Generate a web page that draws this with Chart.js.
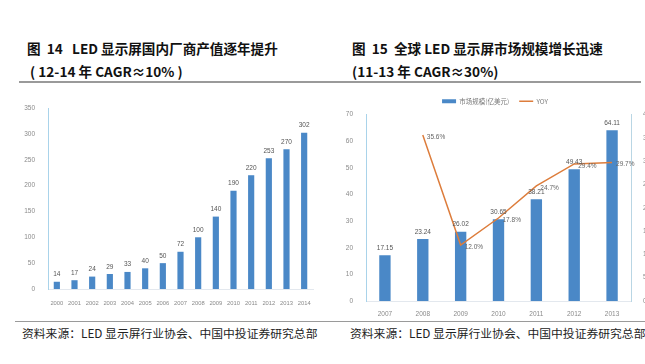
<!DOCTYPE html>
<html>
<head>
<meta charset="utf-8">
<script src="https://cdn.jsdelivr.net/npm/chart.js@4"></script>
<style>
  html, body { margin: 0; padding: 0; background: #fff; width: 645px; height: 364px; overflow: hidden; }
  body { position: relative; font-family: "Noto Sans CJK SC", sans-serif; }
  .title { position: absolute; font-weight: bold; font-size: 13.6px; color: #111; line-height: 23px; white-space: nowrap; }
  .rule { position: absolute; height: 2px; background: #9a9a9a; }
  .src { position: absolute; font-size: 11.8px; color: #222; white-space: nowrap; }
  .box { position: absolute; }
</style>
</head>
<body>
<div class="title" style="left:27px; top:37px;">图&nbsp;&nbsp;14&nbsp;&nbsp;&nbsp;LED 显示屏国内厂商产值逐年提升<br>&nbsp;( 12-14 年 CAGR≈10% )</div>
<div class="title" style="left:352px; top:37px;">图&nbsp;&nbsp;15&nbsp;&nbsp;全球 LED 显示屏市场规模增长迅速<br>(11-13 年 CAGR≈30%)</div>
<div class="rule" style="left:19px; top:81px; width:622px;"></div>
<div class="rule" style="left:15px; top:321px; width:630px; height:1px;"></div>
<div class="src" style="left:22px; top:324px;">资料来源：LED 显示屏行业协会、中国中投证券研究总部</div>
<div class="src" style="left:350px; top:324px;">资料来源：LED 显示屏行业协会、中国中投证券研究总部</div>

<div class="box" style="left:0; top:96px; width:322px; height:212px;"><canvas id="c1"></canvas></div>
<div class="box" style="left:330px; top:84px; width:330px; height:234px;"><canvas id="c2"></canvas></div>

<script>
// figure 14
const years14 = ['2000','2001','2002','2003','2004','2005','2006','2007','2008','2009','2010','2011','2012','2013','2014'];
const output14 = [14, 17, 24, 29, 33, 40, 50, 72, 100, 140, 190, 220, 253, 270, 302];

// figure 15
const years15 = ['2007','2008','2009','2010','2011','2012','2013'];
const market15 = [17.15, 23.24, 26.02, 30.65, 38.21, 49.43, 64.11];
const yoy15 = [null, 0.356, 0.120, 0.178, 0.247, 0.294, 0.297];

const barBlue = '#4a88c7';
const lineOrange = '#dd7d3c';
const tickFont = { family: 'Liberation Sans Narrow, Liberation Sans', size: 6.5 };
const tickColor = '#8a8a8a';

// draws value labels next to bars / points
const valueLabels = {
  id: 'valueLabels',
  afterDatasetsDraw(chart) {
    const ctx = chart.ctx;
    ctx.save();
    ctx.font = '6.5px "Liberation Sans"';
    chart.data.datasets.forEach((ds, i) => {
      const meta = chart.getDatasetMeta(i);
      meta.data.forEach((el, j) => {
        const v = ds.data[j];
        if (v == null) return;
        if (ds.type === 'line') {
          ctx.fillStyle = '#666';
          ctx.textAlign = 'left';
          ctx.textBaseline = 'middle';
          ctx.fillText((v * 100).toFixed(1) + '%', el.x + 4, el.y + 2);
        } else {
          ctx.fillStyle = '#555';
          ctx.textAlign = 'center';
          ctx.textBaseline = 'bottom';
          ctx.fillText(String(v), el.x, el.y - 4);
        }
      });
    });
    ctx.restore();
  }
};

function fixWidth(w) { return s => { s.width = w; }; }
function fixHeight(h) { return s => { s.height = h; }; }

new Chart(document.getElementById('c1'), {
  type: 'bar',
  data: {
    labels: years14,
    datasets: [{ data: output14, backgroundColor: barBlue, barPercentage: 0.7, categoryPercentage: 0.5 }]
  },
  options: {
    responsive: true,
    maintainAspectRatio: false,
    animation: false,
    layout: { padding: { top: 12, right: 9, bottom: 2, left: 0 } },
    plugins: { legend: { display: false }, tooltip: { enabled: false } },
    scales: {
      x: {
        grid: { display: false },
        border: { color: '#e3e8ee' },
        ticks: { font: { family: 'Liberation Sans', size: 5.8 }, color: tickColor, maxRotation: 0, autoSkip: false, padding: 3 },
        afterFit: fixHeight(17)
      },
      y: {
        min: 0, max: 350,
        grid: { display: false },
        border: { color: '#a9d3ea' },
        ticks: { stepSize: 50, font: tickFont, color: tickColor, padding: 5 },
        afterFit: fixWidth(48)
      }
    }
  },
  plugins: [valueLabels]
});

new Chart(document.getElementById('c2'), {
  data: {
    labels: years15,
    datasets: [
      { type: 'bar', label: '市场规模(亿美元)', data: market15, backgroundColor: barBlue,
        barPercentage: 0.6, categoryPercentage: 0.5, yAxisID: 'y', pointStyle: 'rect', order: 2 },
      { type: 'line', label: 'YOY', data: yoy15, borderColor: lineOrange, backgroundColor: lineOrange,
        borderWidth: 1.5, pointRadius: 0, tension: 0, yAxisID: 'y1', pointStyle: 'line', order: 1 }
    ]
  },
  options: {
    responsive: true,
    maintainAspectRatio: false,
    animation: false,
    layout: { padding: { top: 4, right: 0, bottom: 0, left: 0 } },
    plugins: {
      tooltip: { enabled: false },
      legend: {
        position: 'top',
        labels: {
          usePointStyle: true, pointStyleWidth: 14, boxHeight: 4,
          sort: (a, b) => a.datasetIndex - b.datasetIndex,
          font: { family: 'Noto Sans CJK SC', size: 6.5 }, color: '#777', padding: 10
        }
      }
    },
    scales: {
      x: {
        grid: { display: false },
        border: { color: '#e3e8ee' },
        ticks: { font: tickFont, color: tickColor, maxRotation: 0, padding: 1 },
        afterFit: fixHeight(17)
      },
      y: {
        position: 'left',
        min: 0, max: 70,
        grid: { display: false },
        border: { color: '#a9d3ea' },
        ticks: { stepSize: 10, font: tickFont, color: tickColor, padding: 5 },
        afterFit: fixWidth(36)
      },
      y1: {
        position: 'right',
        min: 0, max: 0.4,
        grid: { display: false },
        border: { color: '#b9d6e4' },
        ticks: { stepSize: 0.05, font: tickFont, color: tickColor, padding: 4,
          callback: v => Math.round(v * 100) + '%' },
        afterFit: fixWidth(29)
      }
    }
  },
  plugins: [valueLabels]
});
</script>
</body>
</html>
